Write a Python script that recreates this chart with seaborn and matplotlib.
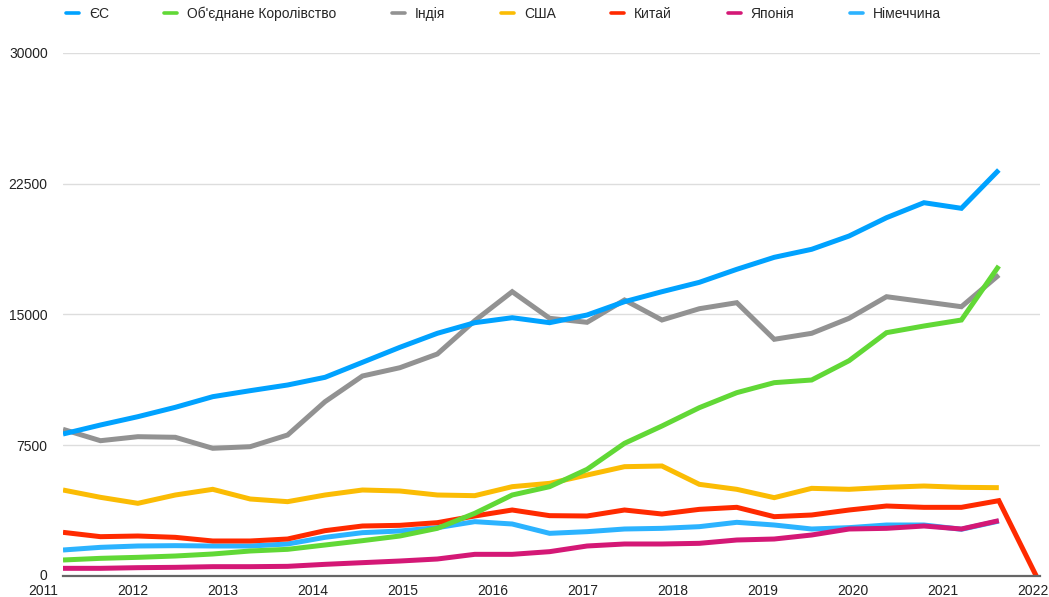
import numpy as np
import pandas as pd
import matplotlib
matplotlib.use("Agg")
import matplotlib.pyplot as plt
import seaborn as sns
from matplotlib.transforms import ScaledTranslation

# ---- data (one point every ~5 months, Mar 2011 .. Jan 2022) ----
countries = ["ЄС", "Об'єднане Королівство", "Індія", "США", "Китай", "Японія", "Німеччина"]
colors = ["#00A2FF", "#61D836", "#929292", "#FBBC04", "#FF2A00", "#D41876", "#2CB3FF"]

eu = [8145, 8661, 9139, 9676, 10286, 10630, 10956, 11397, 12257, 13118, 13921, 14530, 14816,
      14530, 14971, 15735, 16308, 16846, 17592, 18280, 18740, 19502, 20553, 21413, 21091, 23288]
uk = [918, 1013, 1071, 1147, 1262, 1434, 1530, 1778, 2027, 2294, 2734, 3595, 4646,
      5124, 6118, 7610, 8604, 9656, 10516, 11090, 11243, 12351, 13958, 14340, 14684, 17782]
india = [8414, 7761, 7991, 7956, 7325, 7417, 8088, 9998, 11472, 11948, 12734, 14645, 16308,
         14782, 14552, 15831, 14684, 15332, 15677, 13577, 13921, 14782, 16021, 15735, 15447, 17265]
usa = [4933, 4513, 4169, 4646, 4972, 4417, 4264, 4646, 4933, 4876, 4646, 4608, 5124,
       5315, 5793, 6271, 6310, 5258, 4972, 4494, 5028, 4972, 5086, 5162, 5086, 5067]
china = [2505, 2256, 2294, 2218, 2008, 2008, 2122, 2600, 2868, 2906, 3059, 3442, 3786,
         3461, 3442, 3786, 3556, 3824, 3939, 3403, 3499, 3786, 4015, 3939, 3939, 4321, 0]
japan = [440, 440, 478, 497, 535, 535, 554, 669, 765, 860, 975, 1243, 1243,
         1396, 1721, 1836, 1836, 1874, 2065, 2122, 2352, 2696, 2734, 2868, 2696, 3174]
germany = [1491, 1644, 1721, 1740, 1721, 1721, 1836, 2218, 2486, 2581, 2773, 3117, 2983,
           2447, 2543, 2696, 2734, 2830, 3079, 2925, 2696, 2773, 2925, 2925, 2680, 3150]

year_labels = ["2011", "2012", "2013", "2014", "2015", "2016", "2017", "2018", "2019", "2020", "2021", "2022"]
y_ticks = [0, 7500, 15000, 22500, 30000]

series = [eu, uk, india, usa, china, japan, germany]
rows = []
for name, vals in zip(countries, series):
    for i, v in enumerate(vals):
        rows.append({"idx": i, "value": v, "country": name})
df = pd.DataFrame(rows)

# ---- figure ----
sns.set_theme(style="white")
plt.rcParams["font.family"] = ["Liberation Sans", "DejaVu Sans"]

W, H = 1049, 597
fig = plt.figure(figsize=(W / 100, H / 100), dpi=100)
ax_left, ax_right, ax_top, ax_bottom = 63, 1040, 53, 576
ax = fig.add_axes([ax_left / W, (H - ax_bottom) / H, (ax_right - ax_left) / W, (ax_bottom - ax_top) / H])

palette = dict(zip(countries, colors))
draw_order = countries[::-1]
sns.lineplot(data=df, x="idx", y="value", hue="country", hue_order=draw_order,
             palette=palette, linewidth=3.6, ax=ax, legend=False, sort=False,
             estimator=None, solid_joinstyle="miter", solid_capstyle="butt")

ax.set_xlim(0, 26.1)
ax.set_ylim(0, 30000)
ax.set_yticks(y_ticks)
ax.set_yticklabels([str(t) for t in y_ticks], fontsize=10, color="#222222")
ax.tick_params(axis="y", length=0, pad=11)
# lift the "0" label a touch so it clears the year label below it
zero_lab = ax.get_yticklabels()[0]
zero_lab.set_transform(zero_lab.get_transform() + ScaledTranslation(0, 2 / 100, fig.dpi_scale_trans))
ax.set_xticks([])
ax.set_xlabel("")
ax.set_ylabel("")
for s in ["top", "right", "left"]:
    ax.spines[s].set_visible(False)
ax.spines["bottom"].set_color("#666666")
ax.spines["bottom"].set_linewidth(1.6)
for t in y_ticks[1:]:
    ax.axhline(t, color="#DDDDDD", linewidth=1.0, zorder=0)

# year labels (Jan 1 of each year; the data start in March 2011)
px_per_idx = (1038.5 - 63) / 26
for k, lab in enumerate(year_labels):
    xpix = 43 + 90.2 * k
    xdata = (xpix - 63) / px_per_idx
    ax.text(xdata, -0.028, lab, transform=ax.get_xaxis_transform(), ha="center", va="center",
            fontsize=10, color="#222222", clip_on=False)

# legend
from matplotlib.lines import Line2D
handles = [Line2D([0], [0], color=c, linewidth=2.6) for c in colors]
fig.legend(handles, countries, loc="center left", bbox_to_anchor=(66 / W, 1 - 14 / H),
           ncol=7, frameon=False, fontsize=10, handlelength=0.93, handletextpad=0.72,
           columnspacing=4.0, borderaxespad=0, borderpad=0)

fig.savefig("out.png", dpi=100, facecolor="white")
